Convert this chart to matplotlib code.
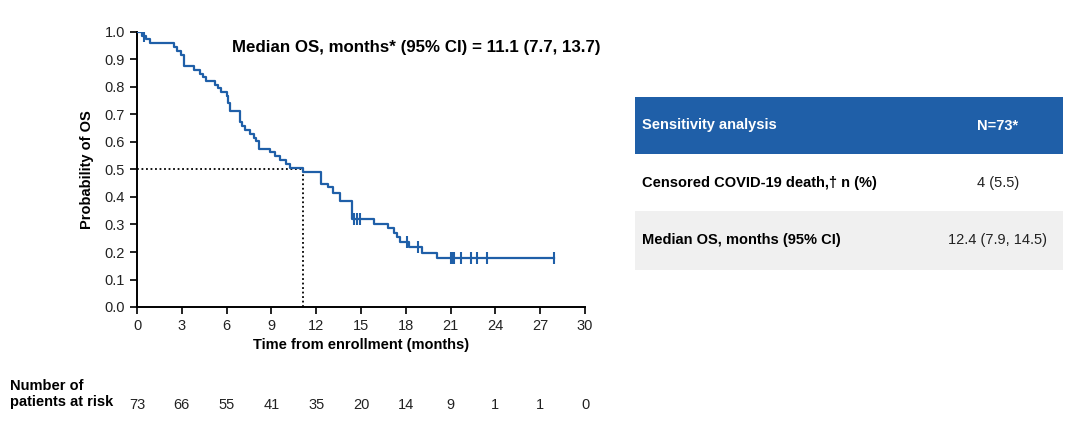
import matplotlib
matplotlib.use("Agg")
import matplotlib.pyplot as plt
import numpy as np

plt.rcParams['font.family'] = ['Liberation Sans', 'DejaVu Sans']

# KM curve: step times (months) and survival after each step
step_t = [0.35, 0.6, 0.85, 2.45, 2.65, 2.95, 3.15, 3.8, 4.25, 4.45, 4.65, 5.25, 5.45,
          5.65, 6.0, 6.1, 6.2, 6.9, 7.05, 7.25, 7.55, 7.85, 8.0, 8.2, 8.9, 9.25, 9.6,
          10.0, 10.25, 11.1, 12.3, 12.8, 13.15, 13.6, 14.4, 15.9, 16.8, 17.2, 17.4,
          17.6, 18.2, 19.1, 20.1]
step_s = [0.986, 0.973, 0.959, 0.945, 0.932, 0.918, 0.877, 0.863, 0.849, 0.836, 0.822,
          0.808, 0.795, 0.781, 0.767, 0.740, 0.712, 0.671, 0.658, 0.644, 0.630, 0.616,
          0.603, 0.575, 0.562, 0.548, 0.534, 0.521, 0.507, 0.490, 0.449, 0.435, 0.414,
          0.387, 0.319, 0.302, 0.288, 0.270, 0.253, 0.235, 0.220, 0.198, 0.178]
censor_t = [0.45, 14.55, 14.75, 14.95, 18.1, 18.8, 21.05, 21.15, 21.2, 21.7, 22.35,
            22.8, 23.45, 27.9]
median_os = 11.1

risk_times = [0, 3, 6, 9, 12, 15, 18, 21, 24, 27, 30]
at_risk = [73, 66, 55, 41, 35, 20, 14, 9, 1, 1, 0]

table_header = ["Sensitivity analysis", "N=73*"]
table_rows = [["Censored COVID-19 death,\u2020 n (%)", "4 (5.5)"],
              ["Median OS, months (95% CI)", "12.4 (7.9, 14.5)"]]

blue = "#1f5fa8"

fig = plt.figure(figsize=(10.8, 4.29), dpi=100)
ax = fig.add_axes([137 / 1080, 1 - 307 / 429, 448 / 1080, 275 / 429])

t_all = [0] + step_t + [max(censor_t)]
s_all = [1.0] + step_s + [step_s[-1]]
ax.step(t_all, s_all, where='post', color=blue, lw=1.6, zorder=3)


def surv_at(t):
    s = 1.0
    for tt, ss in zip(step_t, step_s):
        if tt <= t:
            s = ss
    return s


cs = [surv_at(t) for t in censor_t]
ax.plot(censor_t, cs, linestyle='none', marker='|', markersize=9, mew=1.5, color=blue, zorder=4)

ax.plot([0, median_os], [0.5, 0.5], color='black', ls=(0, (1, 1.5)), lw=1.3, zorder=2)
ax.plot([median_os, median_os], [0, 0.5], color='black', ls=(0, (1, 1.5)), lw=1.3, zorder=2)

ax.set_xlim(0, 30)
ax.set_ylim(0, 1.0)
ax.set_xticks(np.arange(0, 31, 3))
ax.set_yticks(np.arange(0, 1.01, 0.1))
ax.set_yticklabels([f"{v:.1f}" for v in np.arange(0, 1.01, 0.1)])
for side in ['top', 'right']:
    ax.spines[side].set_visible(False)
for side in ['left', 'bottom']:
    ax.spines[side].set_linewidth(1.4)
ax.tick_params(direction='out', length=5, width=1.4, labelsize=10.5, colors='#222222')
ax.set_ylabel("Probability of OS", fontsize=10.5, fontweight='bold', labelpad=8)
ax.set_xlabel("Time from enrollment (months)", fontsize=10.5, fontweight='bold', labelpad=4)
ax.text(0.212, 0.942, "Median OS, months* (95% CI) = 11.1 (7.7, 13.7)", transform=ax.transAxes,
        fontsize=12.2, fontweight='bold', va='center', ha='left')

# number at risk
fig.text(10 / 1080, 1 - 394 / 429, "Number of\npatients at risk", fontsize=10.5,
         fontweight='bold', va='center', ha='left', linespacing=1.1)
for t, n in zip(risk_times, at_risk):
    xf = (137 + t * 448 / 30) / 1080
    fig.text(xf, 1 - 405 / 429, str(n), fontsize=10.5, ha='center', va='center', color='#222222')

# table
tx0, tx1 = 635 / 1080, 1063 / 1080
rows_y = [(97, 154), (154, 211), (211, 270)]
fills = [blue, 'white', '#f0f0f0']
for (y0, y1), fc in zip(rows_y, fills):
    fig.patches.append(plt.Rectangle((tx0, 1 - y1 / 429), tx1 - tx0, (y1 - y0) / 429,
                                     transform=fig.transFigure, facecolor=fc, edgecolor='none'))
cells = [table_header] + table_rows
for i, ((y0, y1), row) in enumerate(zip(rows_y, cells)):
    yc = 1 - (y0 + y1) / 2 / 429
    col = 'white' if i == 0 else 'black'
    fig.text(642 / 1080, yc, row[0], fontsize=10.5, fontweight='bold', color=col, va='center', ha='left')
    fig.text(998 / 1080, yc, row[1], fontsize=10.5, fontweight='bold' if i == 0 else 'normal',
             color=col if i == 0 else '#222222', va='center', ha='center')

fig.savefig("out.png", dpi=100)
